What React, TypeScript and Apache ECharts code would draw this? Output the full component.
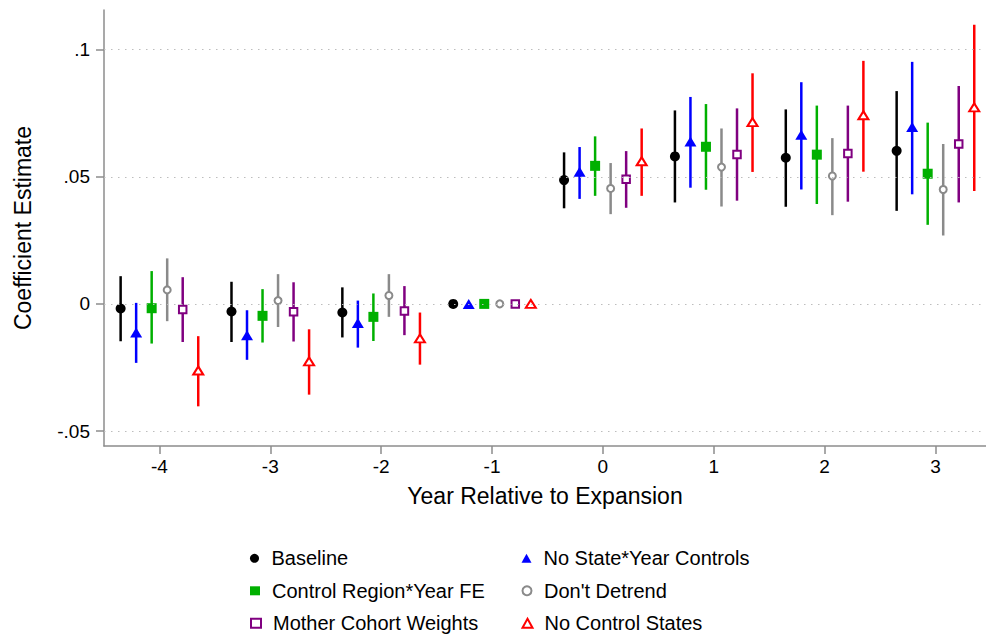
import { useEffect, useRef } from "react";
import * as echarts from "echarts";

const years = [-4, -3, -2, -1, 0, 1, 2, 3];
const offsets = [-0.35, -0.21, -0.07, 0.07, 0.21, 0.35];
const yTicks = [-0.05, 0, 0.05, 0.1];
const yTickLabels = ["-.05", "0", ".05", ".1"];

const seriesNames = [
  "Baseline",
  "No State*Year Controls",
  "Control Region*Year FE",
  "Don't Detrend",
  "Mother Cohort Weights",
  "No Control States",
];

const baselineEst = [-0.0018, -0.003, -0.0034, 0, 0.0487, 0.058, 0.0575, 0.0602];
const baselineLo = [-0.0147, -0.015, -0.0132, 0, 0.0376, 0.0399, 0.0382, 0.0366];
const baselineHi = [0.0109, 0.0087, 0.0065, 0, 0.0596, 0.0761, 0.0765, 0.0837];

const noStateEst = [-0.0113, -0.0123, -0.0075, 0, 0.052, 0.0639, 0.0665, 0.0696];
const noStateLo = [-0.0232, -0.022, -0.0172, 0, 0.0413, 0.0457, 0.045, 0.0431];
const noStateHi = [0.0004, -0.0025, 0.0013, 0, 0.0617, 0.0814, 0.0872, 0.0952];

const regionEst = [-0.0017, -0.0047, -0.0051, 0, 0.0543, 0.0618, 0.0587, 0.0512];
const regionLo = [-0.0156, -0.0152, -0.0146, 0, 0.0425, 0.0449, 0.0393, 0.0311];
const regionHi = [0.0129, 0.0058, 0.0041, 0, 0.0659, 0.0786, 0.078, 0.0713];

const detrendEst = [0.0055, 0.0013, 0.0033, 0, 0.0454, 0.0538, 0.0503, 0.045];
const detrendLo = [-0.0068, -0.0091, -0.0051, 0, 0.0353, 0.0383, 0.0349, 0.0269];
const detrendHi = [0.0179, 0.0117, 0.0117, 0, 0.0554, 0.069, 0.0652, 0.0629];

const cohortEst = [-0.0022, -0.0031, -0.0028, 0, 0.049, 0.0588, 0.0592, 0.0629];
const cohortLo = [-0.015, -0.0148, -0.0123, 0, 0.0378, 0.0406, 0.0402, 0.0399];
const cohortHi = [0.0105, 0.0085, 0.007, 0, 0.0601, 0.0769, 0.078, 0.0857];

const noControlEst = [-0.0262, -0.0226, -0.0136, 0, 0.0561, 0.0715, 0.0742, 0.0773];
const noControlLo = [-0.0403, -0.0357, -0.0239, 0, 0.0425, 0.0519, 0.052, 0.0444];
const noControlHi = [-0.0127, -0.01, -0.0034, 0, 0.069, 0.0907, 0.0956, 0.1098];

const FONT = "'Liberation Sans', Arial, Helvetica, sans-serif";

const styles = [
  { color: "#000000", symbol: "circle", size: 10 },
  { color: "#0000ff", symbol: "triangle", size: [12, 10] },
  { color: "#00b000", symbol: "rect", size: 10 },
  { color: "#8a8a8a", symbol: "emptyCircle", size: 7 },
  { color: "#800080", symbol: "emptyRect", size: 7.5 },
  { color: "#ff0000", symbol: "emptyTriangle", size: [10, 8] },
];

const estimates = [baselineEst, noStateEst, regionEst, detrendEst, cohortEst, noControlEst];
const lows = [baselineLo, noStateLo, regionLo, detrendLo, cohortLo, noControlLo];
const highs = [baselineHi, noStateHi, regionHi, detrendHi, cohortHi, noControlHi];

// legend layout: column (0/1) and row (0..2) for each series
const legendCol = [0, 1, 0, 1, 0, 1];
const legendRow = [0, 0, 1, 1, 2, 2];

function buildOption() {
  const series: any[] = [];
  series.push({
    name: "__grid",
    type: "scatter",
    data: [],
    z: 1,
    silent: true,
    markLine: {
      silent: true,
      symbol: ["none", "none"],
      label: { show: false },
      animation: false,
      lineStyle: { color: "#bdbdbd", width: 1, type: [1.5, 5.5] },
      data: yTicks.map((v) => ({ yAxis: v })),
    },
  });
  seriesNames.forEach((name, i) => {
    const st = styles[i];
    const ciData = years
      .map((yr, j) => [yr + offsets[i], lows[i][j], highs[i][j]])
      .filter((d) => d[1] !== d[2]);
    series.push({
      name: name + " CI",
      type: "custom",
      z: 2,
      silent: true,
      data: ciData,
      encode: { x: 0, y: [1, 2] },
      renderItem: (_params: any, api: any) => {
        const x = api.value(0);
        const p1 = api.coord([x, api.value(1)]);
        const p2 = api.coord([x, api.value(2)]);
        return {
          type: "line",
          shape: { x1: p1[0], y1: p1[1], x2: p2[0], y2: p2[1] },
          style: { stroke: st.color, lineWidth: 2.5 },
        };
      },
    });
  });
  seriesNames.forEach((name, i) => {
    const st = styles[i];
    series.push({
      name,
      type: "scatter",
      z: 3,
      symbol: st.symbol,
      symbolSize: st.size,
      itemStyle: { color: st.color, opacity: 1 },
      data: years.map((yr, j) => [yr + offsets[i], estimates[i][j]]),
    });
  });

  const legends = seriesNames.map((name, i) => ({
    orient: "horizontal",
    left: legendCol[i] === 0 ? 245 : 516.5,
    top: 543.3 + legendRow[i] * 32.5,
    itemWidth: 10,
    itemHeight: 9,
    selectedMode: false,
    data: [name],
    textStyle: { fontSize: 20, color: "#000", fontFamily: FONT, padding: [0, 0, 0, 7] },
  }));

  return {
    animation: false,
    backgroundColor: "#ffffff",
    textStyle: { fontFamily: FONT },
    grid: { left: 104, right: 0, top: 10, bottom: 191, outerBoundsMode: "none", containLabel: false },
    legend: legends,
    xAxis: {
      type: "value",
      min: -4.5,
      max: 3.456,
      name: "Year Relative to Expansion",
      nameLocation: "middle",
      nameGap: 38,
      nameTextStyle: { fontSize: 23, color: "#000", fontFamily: FONT },
      axisLine: { show: true, onZero: false, lineStyle: { color: "#8c8c8c", width: 1.5 } },
      axisTick: { show: true, length: 8, lineStyle: { color: "#8c8c8c", width: 1.5 }, customValues: years },
      axisLabel: { fontSize: 19, color: "#000", margin: 11, fontFamily: FONT, customValues: years },
      splitLine: { show: false },
    },
    yAxis: {
      type: "value",
      min: -0.0559,
      max: 0.1156,
      name: "Coefficient Estimate",
      nameLocation: "middle",
      nameGap: 70,
      nameTextStyle: { fontSize: 23, color: "#000", fontFamily: FONT },
      axisLine: { show: true, onZero: false, lineStyle: { color: "#8c8c8c", width: 1.5 } },
      axisTick: { show: true, length: 8, lineStyle: { color: "#8c8c8c", width: 1.5 }, customValues: yTicks },
      axisLabel: {
        fontSize: 19,
        color: "#000",
        margin: 14,
        fontFamily: FONT,
        customValues: yTicks,
        formatter: (v: number) => {
          let best = 0;
          yTicks.forEach((t, k) => {
            if (Math.abs(t - v) < Math.abs(yTicks[best] - v)) best = k;
          });
          return yTickLabels[best];
        },
      },
      splitLine: { show: false },
    },
    series,
  };
}

export default function App() {
  const ref = useRef<HTMLDivElement>(null);
  useEffect(() => {
    if (!ref.current) return;
    const chart = echarts.init(ref.current, null, { renderer: "svg" });
    chart.setOption(buildOption() as any);
    return () => chart.dispose();
  }, []);
  return (
    <div
      ref={ref}
      style={{ position: "absolute", left: 0, top: 0, width: 986, height: 637, background: "#fff" }}
    />
  );
}
